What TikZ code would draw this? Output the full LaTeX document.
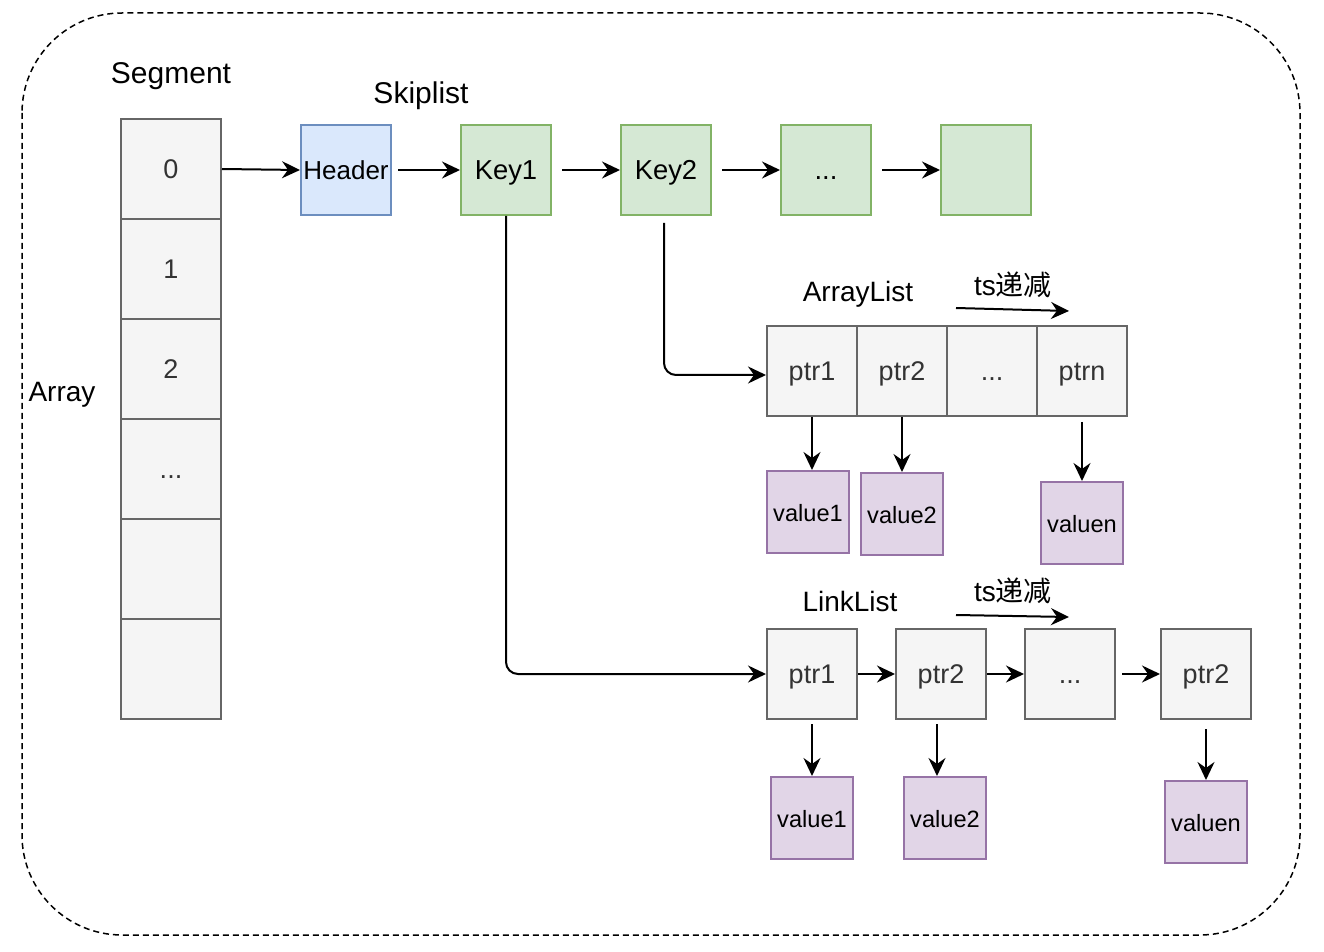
\documentclass[tikz,border=0pt]{standalone}
\usepackage{fontspec}
\setmainfont{Liberation Sans}
\newfontfamily\cjk{Noto Sans CJK SC}
\usetikzlibrary{arrows.meta}
\definecolor{grayfill}{HTML}{F5F5F5}
\definecolor{graydraw}{HTML}{666666}
\definecolor{graytext}{HTML}{333333}
\definecolor{bluefill}{HTML}{DAE8FC}
\definecolor{bluedraw}{HTML}{6C8EBF}
\definecolor{greenfill}{HTML}{D5E8D4}
\definecolor{greendraw}{HTML}{82B366}
\definecolor{purplefill}{HTML}{E1D5E7}
\definecolor{purpledraw}{HTML}{9673A6}
\begin{document}
\begin{tikzpicture}[x=0.5pt,y=-0.5pt,
  box/.style={draw, line width=1pt, inner sep=0pt, minimum width=45pt, minimum height=45pt, text height=1.05em, text depth=0.1em},
  cellbox/.style={box, fill=grayfill, draw=graydraw, text=graytext, font=\fontsize{13.5}{16}\selectfont},
  segcell/.style={cellbox, minimum width=50pt, minimum height=50pt},
  headbox/.style={box, fill=bluefill, draw=bluedraw, font=\fontsize{13}{15}\selectfont},
  keybox/.style={box, fill=greenfill, draw=greendraw, font=\fontsize{13.7}{16}\selectfont},
  valbox/.style={box, fill=purplefill, draw=purpledraw, minimum width=41pt, minimum height=41pt, font=\fontsize{11.8}{14}\selectfont},
  lbl/.style={inner sep=0pt, text height=1.05em, text depth=0.1em, font=\fontsize{14}{16}\selectfont},
  biglbl/.style={lbl, font=\fontsize{15}{17}\selectfont},
  arr/.style={draw, line width=1pt, -{Stealth[length=9pt,width=8.5pt,inset=3pt]}}
]
\useasboundingbox (0,0) rectangle (1324,952);
\draw[line width=0.75pt, dash pattern=on 3pt off 2pt, rounded corners=50pt] (22,13) rectangle (1300,935);

% labels
\node[biglbl] (lseg) at (171,74) {Segment};
\node[biglbl] (lskip) at (421,94) {Skiplist};
\node[lbl] (larr) at (62,392) {Array};
\node[lbl] (lal) at (858,292) {ArrayList};
\node[lbl] (lll) at (850,602) {LinkList};
\node[lbl] (ts1) at (1013,286) {ts{\cjk 递减}};
\node[lbl] (ts2) at (1013,592) {ts{\cjk 递减}};

% segment array
\node[segcell] (a0) at (171,169) {0};
\node[segcell] (a1) at (171,269) {1};
\node[segcell] (a2) at (171,369) {2};
\node[segcell] (a3) at (171,469) {...};
\node[segcell] (a4) at (171,569) {};
\node[segcell] (a5) at (171,669) {};

% skiplist
\node[headbox] (hd) at (346,170) {Header};
\node[keybox] (k1) at (506,170) {Key1};
\node[keybox] (k2) at (666,170) {Key2};
\node[keybox] (k3) at (826,170) {...};
\node[keybox] (k4) at (986,170) {};

\draw[arr] (a0.east) -- (hd.west);
\draw[arr, shorten <=3pt] (hd.east) -- (k1.west);
\draw[arr, shorten <=5pt] (k1.east) -- (k2.west);
\draw[arr, shorten <=5pt] (k2.east) -- (k3.west);
\draw[arr, shorten <=5pt] (k3.east) -- (k4.west);

% array list
\node[cellbox] (al1) at (812,371) {ptr1};
\node[cellbox] (al2) at (902,371) {ptr2};
\node[cellbox] (al3) at (992,371) {...};
\node[cellbox] (al4) at (1082,371) {ptrn};

\node[valbox] (av1) at (808,512) {value1};
\node[valbox] (av2) at (902,514) {value2};
\node[valbox] (av4) at (1082,523) {valuen};

\draw[arr] (al1.south) -- (al1.south |- av1.north);
\draw[arr] (al2.south) -- (al2.south |- av2.north);
\draw[arr, shorten <=2.5pt] (al4.south) -- (al4.south |- av4.north);

\coordinate (ta1) at (956,308);
\coordinate (tb1) at (1069,311);
\draw[arr] (ta1) -- (tb1);

% link list
\node[cellbox] (ll1) at (812,674) {ptr1};
\node[cellbox] (ll2) at (941,674) {ptr2};
\node[cellbox] (ll3) at (1070,674) {...};
\node[cellbox] (ll4) at (1206,674) {ptr2};

\node[valbox] (lv1) at (812,818) {value1};
\node[valbox] (lv2) at (945,818) {value2};
\node[valbox] (lv4) at (1206,822) {valuen};

\draw[arr] (ll1.east) -- (ll2.west);
\draw[arr] (ll2.east) -- (ll3.west);
\draw[arr, shorten <=3pt] (ll3.east) -- (ll4.west);

\draw[arr, shorten <=2pt] (ll1.south) -- (ll1.south |- lv1.north);
\draw[arr, shorten <=2pt] ([xshift=-2pt]ll2.south) -- ([xshift=-2pt]ll2.south |- lv2.north);
\draw[arr, shorten <=4.5pt] (ll4.south) -- (ll4.south |- lv4.north);

\coordinate (ta2) at (956,615);
\coordinate (tb2) at (1069,617);
\draw[arr] (ta2) -- (tb2);

% connectors from keys
\draw[arr, rounded corners=6pt, shorten <=3.5pt] ([xshift=-1pt]k2.south) |- ([yshift=-2pt]al1.west);
\draw[arr, rounded corners=6pt] (k1.south) |- (ll1.west);
\end{tikzpicture}
\end{document}
